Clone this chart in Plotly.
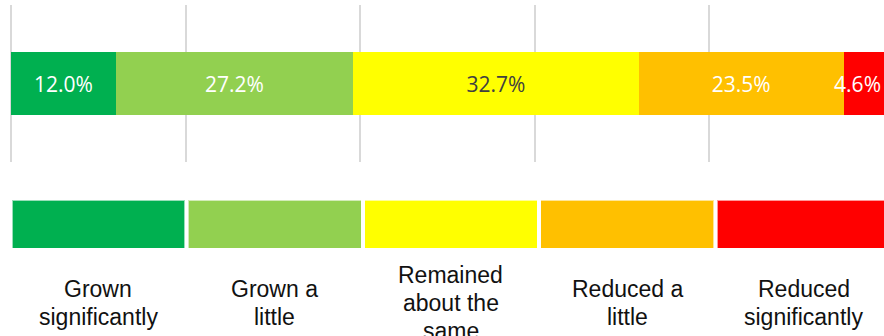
import plotly.graph_objects as go

# Share of responses per change category (percent)
categories = ["Grown significantly", "Grown a little", "Remained about the same",
              "Reduced a little", "Reduced significantly"]
legend_lines = [["Grown", "significantly"], ["Grown a", "little"],
                ["Remained", "about the", "same"], ["Reduced a", "little"],
                ["Reduced", "significantly"]]
shares = [12.0, 27.2, 32.7, 23.5, 4.6]
colors = ["#00B050", "#92D050", "#FFFF00", "#FFC000", "#FF0000"]
text_colors = ["white", "white", "#404040", "white", "white"]

W, H = 884, 336
PX_PER_PCT = 8.73
fig = go.Figure()

# Stacked 100% bar; the narrow last segment keeps its label flush with the bar end
for k, (cat, val, col, tcol) in enumerate(zip(categories, shares, colors, text_colors)):
    fig.add_trace(go.Bar(
        x=[val], y=[""], orientation="h", name=cat,
        marker=dict(color=col, line=dict(width=0)),
        text=[f"{val:.1f}%"], textposition="inside",
        insidetextanchor="end" if k == len(shares) - 1 else "middle",
        constraintext="none", textangle=0,
        textfont=dict(family="Open Sans", size=21, color=tcol),
        width=0.4, xaxis="x", yaxis="y", showlegend=False, hoverinfo="skip",
    ))

# Colour key drawn as a row of equal bars
fig.add_trace(go.Bar(
    x=list(range(len(categories))), y=[1] * len(categories),
    marker=dict(color=colors, line=dict(color="rgba(255,255,255,0.6)", width=1)),
    width=0.98, xaxis="x2", yaxis="y2", showlegend=False, hoverinfo="skip",
))

# Key captions, one annotation per line so the line spacing stays tight
LINE_GAP = 28
CENTER_Y = 303
for i, lines in enumerate(legend_lines):
    n = len(lines)
    for j, line in enumerate(lines):
        ypix = CENTER_Y + (j - (n - 1) / 2) * LINE_GAP
        fig.add_annotation(
            x=i, xref="x2", y=1 - ypix / H, yref="paper", text=line, showarrow=False,
            xanchor="center", yanchor="middle", align="center",
            font=dict(family="Liberation Sans, Arial", size=23, color="#111111"),
        )

pitch = 176.3
x2_start = -0.49 - 12 / pitch
fig.update_layout(
    width=W, height=H, barmode="stack",
    margin=dict(l=0, r=0, t=0, b=0),
    paper_bgcolor="white", plot_bgcolor="white",
    xaxis=dict(range=[-11 / PX_PER_PCT, (W - 11) / PX_PER_PCT], domain=[0, 1],
               tickvals=[0, 20, 40, 60, 80],
               showticklabels=False, showgrid=True, gridcolor="#D9D9D9", gridwidth=2,
               zeroline=False, showline=False, anchor="y", fixedrange=True),
    yaxis=dict(domain=[1 - 162 / H, 1 - 5 / H], range=[-0.5, 0.5], showticklabels=False,
               showgrid=False, zeroline=False, showline=False, fixedrange=True),
    xaxis2=dict(range=[x2_start, x2_start + W / pitch], domain=[0, 1], anchor="y2",
                showticklabels=False, showgrid=False, zeroline=False, showline=False),
    yaxis2=dict(domain=[1 - 248 / H, 1 - 200 / H], range=[0, 1], anchor="x2",
                showticklabels=False, showgrid=False, zeroline=False, showline=False),
)

fig.write_html("out.html", config={"displayModeBar": False})
